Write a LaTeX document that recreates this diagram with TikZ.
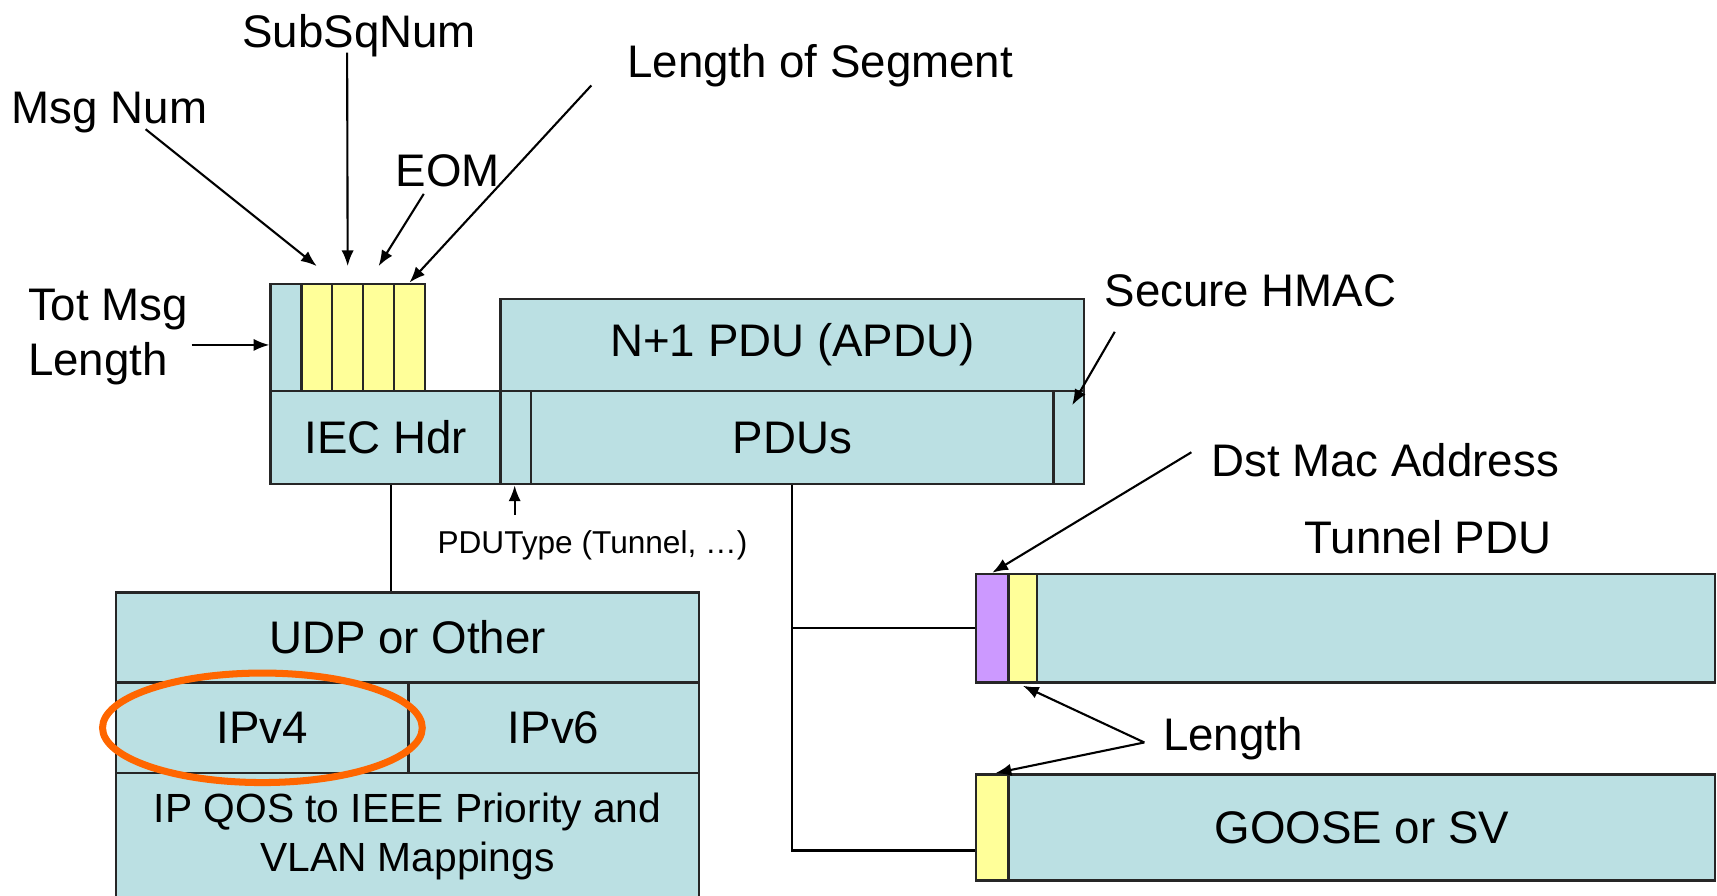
\documentclass[tikz,border=0pt]{standalone}
\usepackage{fontspec}
\setmainfont{Liberation Sans}
\usetikzlibrary{arrows.meta,calc,positioning,shapes.geometric}
\definecolor{tealbox}{RGB}{187,224,227}
\definecolor{yelbox}{RGB}{255,255,153}
\definecolor{purbox}{RGB}{204,153,255}
\definecolor{ringcol}{RGB}{255,102,0}

\begin{document}
\begin{tikzpicture}[x=0.01095cm, y=-0.01095cm,
  fld/.style={draw=black!85, line width=0.7pt, fill=tealbox, inner sep=0pt,
    anchor=north west, font=\fontsize{13}{15}\selectfont},
  lbl/.style={font=\fontsize{13}{15}\selectfont, inner sep=0pt, anchor=base},
  ptr/.style={-{Latex[length=4.5pt,width=3.5pt]}, line width=0.6pt},
  wire/.style={line width=0.6pt}]
  \def\u{0.01095cm}
  \useasboundingbox (0,0) rectangle (1568,818);

  % IEC header with segment fields
  \node[fld, minimum width={28*\u}, minimum height={98*\u}] (tot) at (246,258) {};
  \foreach \i in {1,...,4} {
    \pgfmathsetmacro{\sx}{274+(\i-1)*28.25}
    \node[fld, fill=yelbox, minimum width={28.25*\u}, minimum height={98*\u}] (seg\i) at (\sx,258) {};
  }
  \node[fld, minimum width={210*\u}, minimum height={85*\u}] (iec) at (246,356) {IEC Hdr};

  % APDU and PDUs
  \node[fld, minimum width={533*\u}, minimum height={84*\u}] (apdu) at (456,272) {N+1 PDU (APDU)};
  \node[fld, minimum width={28*\u}, minimum height={85*\u}] (ptype) at (456,356) {};
  \node[fld, minimum width={477*\u}, minimum height={85*\u}] (pdus) at (484,356) {PDUs};
  \node[fld, minimum width={28*\u}, minimum height={85*\u}] (hmac) at (961,356) {};

  % transport stack
  \node[fld, minimum width={532*\u}, minimum height={82*\u}] (udp) at (105,540) {UDP or Other};
  \node[fld, minimum width={267*\u}, minimum height={83*\u}] (ipv4) at (105,622) {IPv4};
  \node[fld, minimum width={265*\u}, minimum height={83*\u}] (ipv6) at (372,622) {IPv6};
  \node[fld, minimum width={532*\u}, minimum height={116*\u}, align=center,
    font=\fontsize{11.6}{14}\selectfont] (qos) at (105,705)
    {IP QOS to IEEE Priority and\\VLAN Mappings};

  % Tunnel PDU
  \node[fld, fill=purbox, minimum width={30*\u}, minimum height={99*\u}] (mac) at (890,523) {};
  \node[fld, fill=yelbox, minimum width={26*\u}, minimum height={99*\u}] (tlen) at (920,523) {};
  \node[fld, minimum width={619*\u}, minimum height={99*\u}] (tbody) at (946,523) {};

  % GOOSE or SV
  \node[fld, fill=yelbox, minimum width={30*\u}, minimum height={97*\u}] (glen) at (890,706) {};
  \node[fld, minimum width={645*\u}, minimum height={97*\u}] (gbody) at (920,706) {GOOSE or SV};

  % IPv4 highlight
  \node[draw=ringcol, line width=2pt, ellipse, inner sep=0pt,
    minimum width={292*\u}, minimum height={100*\u}] (ring) at (ipv4.center) {};

  % labels
  \node[lbl] (subsq) at (328,43) {SubSqNum};
  \node[lbl] (msgnum) at (100,113) {Msg Num};
  \node[lbl] (lenseg) at (749,71) {Length of Segment};
  \node[lbl] (eom) at (409,170) {EOM};
  \node[lbl, anchor=west, align=left, font=\fontsize{13}{15.6}\selectfont] (totlen) at (25,308) {Tot Msg\\Length};
  \node[lbl] (sechmac) at (1142,280) {Secure HMAC};
  \node[lbl] (dstmac) at (1265,435) {Dst Mac Address};
  \node[lbl] (tunlbl) at (1304,505) {Tunnel PDU};
  \node[lbl] (lenlbl) at (1126,685) {Length};
  \node[lbl, font=\fontsize{9}{11}\selectfont] (typlbl) at (541,505) {PDUType (Tunnel, \dots)};

  % arrow tails
  \coordinate (msgA) at (133,118);
  \coordinate (subA) at (317,48);
  \coordinate (eomA) at (387,177);
  \coordinate (lenA) at (540,78);
  \coordinate (totA) at (175,315);
  \coordinate (hmacA) at (1018,303);
  \coordinate (typA) at (470,470);
  \coordinate (dstA) at (1088,413);
  \coordinate (lnA) at (1045,678);

  % pointers
  \draw[ptr] (msgA) -- ($(seg1.north)+(0,-15)$);
  \draw[ptr] (subA) -- ($(seg2.north)+(0,-15)$);
  \draw[ptr] (eomA) -- ($(seg3.north)+(0,-15)$);
  \draw[ptr] (lenA) -- (seg4.north);
  \draw[ptr] (totA) -- (totA -| tot.west);
  \draw[ptr] (hmacA) -- ($(hmac.north)+(3,14)$);
  \draw[ptr] (typA) -- (typA |- ptype.south);
  \draw[ptr] (dstA) -- (mac.north);
  \draw[ptr] (lnA) -- ($(tlen.south)+(0,2)$);
  \draw[ptr] (lnA) -- ($(glen.north)+(3,0)$);

  % links
  \draw[wire] ($(iec.south west)+(111,0)$) -- ($(udp.north west)+(252,0)$);
  \coordinate (tap) at ($(pdus.south west)+(239,0)$);
  \draw[wire] (tap) |- ($(glen.west)+(0,21)$);
  \draw[wire] (mac.west) -| (tap);
\end{tikzpicture}
\end{document}
